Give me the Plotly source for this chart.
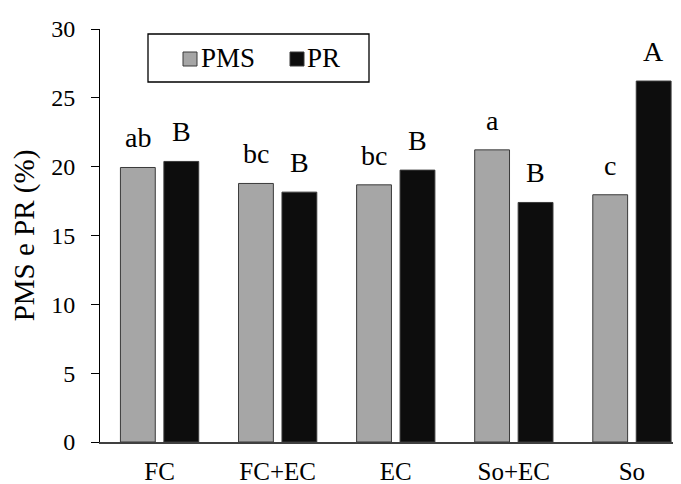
import plotly.graph_objects as go

# ---- data ----
categories = ["FC", "FC+EC", "EC", "So+EC", "So"]
series_names = ["PMS", "PR"]
pms = [19.94, 18.78, 18.68, 21.22, 17.96]
pr = [20.38, 18.15, 19.75, 17.40, 26.22]
pms_letters = ["ab", "bc", "bc", "a", "c"]
pr_letters = ["B", "B", "B", "B", "A"]
y_ticks = [0, 5, 10, 15, 20, 25, 30]

# ---- styling ----
FONT = "Liberation Serif"
PMS_COLOR = "#a6a6a6"
PR_COLOR = "#0d0d0d"
EDGE = "#3a3a3a"
PAGE_PAD = 8  # default body margin of the html page
W, H = 681 - PAGE_PAD, 484 - PAGE_PAD
ML, MR, MT, MB = 100 - PAGE_PAD, 0, 29 - PAGE_PAD, 42
PW, PH = W - ML - MR, H - MT - MB

BAR_W = 0.295
OFF_PMS = -0.331
OFF_PR = 0.037

xs = list(range(len(categories)))

fig = go.Figure()
fig.add_trace(go.Bar(x=xs, y=pms, name=series_names[0], width=BAR_W, offset=OFF_PMS,
                     marker=dict(color=PMS_COLOR, line=dict(color=EDGE, width=1)),
                     showlegend=False))
fig.add_trace(go.Bar(x=xs, y=pr, name=series_names[1], width=BAR_W, offset=OFF_PR,
                     marker=dict(color=PR_COLOR, line=dict(color=EDGE, width=1)),
                     showlegend=False))

annotations = []
for i in xs:
    annotations.append(dict(x=i + OFF_PMS + BAR_W / 2, y=pms[i], xref="x", yref="y",
                            text=pms_letters[i], showarrow=False, yanchor="bottom",
                            yshift=12, font=dict(family=FONT, size=28, color="black")))
    annotations.append(dict(x=i + OFF_PR + BAR_W / 2, y=pr[i], xref="x", yref="y",
                            text=pr_letters[i], showarrow=False, yanchor="bottom",
                            yshift=12, font=dict(family=FONT, size=28, color="black")))


def px(p):
    # page pixel x -> paper coordinate
    return (p - PAGE_PAD - ML) / PW


def py(p):
    # page pixel y -> paper coordinate
    return (H - MB - (p - PAGE_PAD)) / PH


# manual legend (box, swatches, labels)
shapes = [
    dict(type="rect", xref="paper", yref="paper", x0=px(148), x1=px(369), y0=py(82), y1=py(34),
         line=dict(color="black", width=1.3), fillcolor="white", layer="above"),
    dict(type="rect", xref="paper", yref="paper", x0=px(183), x1=px(197), y0=py(66), y1=py(52),
         line=dict(color=EDGE, width=1), fillcolor=PMS_COLOR, layer="above"),
    dict(type="rect", xref="paper", yref="paper", x0=px(290), x1=px(304), y0=py(66), y1=py(52),
         line=dict(color=EDGE, width=1), fillcolor=PR_COLOR, layer="above"),
]
annotations.append(dict(x=px(199), y=py(58.5), xref="paper", yref="paper", text=series_names[0],
                        showarrow=False, xanchor="left", yanchor="middle",
                        font=dict(family=FONT, size=27, color="black")))
annotations.append(dict(x=px(305), y=py(58.5), xref="paper", yref="paper", text=series_names[1],
                        showarrow=False, xanchor="left", yanchor="middle",
                        font=dict(family=FONT, size=27, color="black")))

fig.update_layout(
    width=W, height=H,
    margin=dict(l=ML, r=MR, t=MT, b=MB, autoexpand=False),
    paper_bgcolor="white", plot_bgcolor="white",
    barmode="overlay",
    showlegend=False,
    font=dict(family=FONT, color="black"),
    annotations=annotations,
    shapes=shapes,
    xaxis=dict(
        range=[-0.504, 4.416],
        tickmode="array", tickvals=xs, ticktext=categories,
        showgrid=False, zeroline=False,
        showline=True, linecolor="#404040", linewidth=1.5,
        ticks="outside", ticklen=6, tickcolor="rgba(0,0,0,0)",
        tickfont=dict(family=FONT, size=25, color="black"),
    ),
    yaxis=dict(
        range=[0, 30],
        tickmode="array", tickvals=y_ticks,
        showgrid=False, zeroline=False,
        showline=True, linecolor="black", linewidth=1,
        ticks="outside", ticklen=8, tickcolor="black", tickwidth=1,
        ticklabelstandoff=11,
        tickfont=dict(family=FONT, size=24, color="black"),
        title=dict(text="PMS e PR (%)", font=dict(family=FONT, size=29, color="black"), standoff=8),
    ),
)

fig.write_html("out.html")
